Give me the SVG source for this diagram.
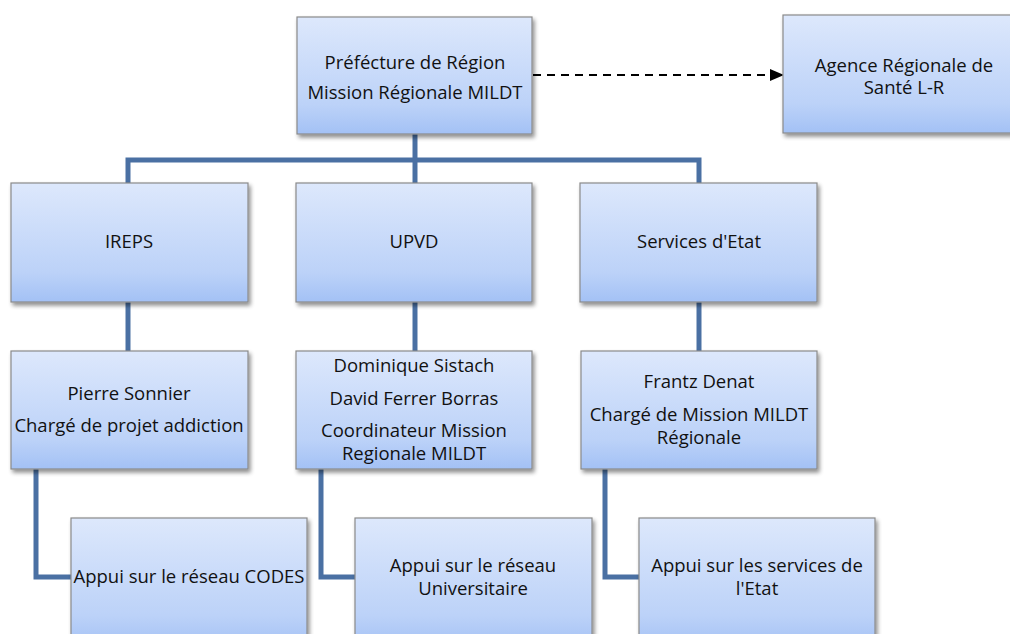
<svg xmlns="http://www.w3.org/2000/svg" width="1010" height="634" viewBox="0 0 1010 634">
<defs>
<linearGradient id="g" x1="0" y1="0" x2="0" y2="1">
<stop offset="0" stop-color="#dde8fc"/>
<stop offset="0.75" stop-color="#bcd2f8"/>
<stop offset="1" stop-color="#a3c1f5"/>
</linearGradient>
<filter id="sh" x="-10%" y="-10%" width="130%" height="130%">
<feGaussianBlur in="SourceAlpha" stdDeviation="2"/>
<feOffset dx="2" dy="3" result="b"/>
<feComponentTransfer><feFuncA type="linear" slope="0.45"/></feComponentTransfer>
<feMerge><feMergeNode/><feMergeNode in="SourceGraphic"/></feMerge>
</filter>
<marker id="arr" markerWidth="14" markerHeight="12" refX="13" refY="6" orient="auto" markerUnits="userSpaceOnUse">
<path d="M0,0 L14,6 L0,12 Z" fill="#000"/>
</marker>
</defs>
<style>
.box{fill:url(#g);stroke:#8a8a8a;stroke-width:1.2;filter:url(#sh)}
.t{font-family:"Open Sans","Liberation Sans",sans-serif;font-size:18.5px;fill:#111;text-anchor:middle}
.c{fill:none;stroke:#4a70a3;stroke-width:5;stroke-linejoin:miter}
.d{fill:none;stroke:#000;stroke-width:2.2;stroke-dasharray:8,6}
</style>
<rect width="1010" height="634" fill="#fff"/>
<g id="connectors">
<path class="c" d="M415,134 V160"/>
<path class="c" d="M128,183 V160 H699 V183"/>
<path class="c" d="M415,160 V183"/>
<path class="c" d="M128,302 V351"/>
<path class="c" d="M415,302 V351"/>
<path class="c" d="M699,302 V351"/>
<path class="c" d="M36,469 V577 H71"/>
<path class="c" d="M321,469 V577 H355"/>
<path class="c" d="M605,469 V577 H639"/>
<path class="d" d="M533,75 H783" marker-end="url(#arr)"/>
</g>
<g id="prefecture">
<rect class="box" x="297" y="17" width="235" height="117"/>
<text class="t" x="415" y="69">Préfécture de Région</text>
<text class="t" x="415" y="99">Mission Régionale MILDT</text>
</g>
<g id="ars">
<rect class="box" x="783" y="15" width="242" height="118"/>
<text class="t" x="904" y="72">Agence Régionale de</text>
<text class="t" x="904" y="94">Santé L-R</text>
</g>
<g id="ireps">
<rect class="box" x="11" y="183" width="237" height="119"/>
<text class="t" x="129" y="248">IREPS</text>
</g>
<g id="upvd">
<rect class="box" x="296" y="183" width="236" height="119"/>
<text class="t" x="414" y="248">UPVD</text>
</g>
<g id="services">
<rect class="box" x="580" y="183" width="237" height="119"/>
<text class="t" x="699" y="248">Services d'Etat</text>
</g>
<g id="pierre">
<rect class="box" x="11" y="351" width="237" height="118"/>
<text class="t" x="129" y="400">Pierre Sonnier</text>
<text class="t" x="129" y="432">Chargé de projet addiction</text>
</g>
<g id="upvd-people">
<rect class="box" x="296" y="351" width="236" height="118"/>
<text class="t" x="414" y="372">Dominique Sistach</text>
<text class="t" x="414" y="405">David Ferrer Borras</text>
<text class="t" x="414" y="437">Coordinateur Mission</text>
<text class="t" x="414" y="460">Regionale MILDT</text>
</g>
<g id="frantz">
<rect class="box" x="581" y="351" width="236" height="118"/>
<text class="t" x="699" y="388">Frantz Denat</text>
<text class="t" x="699" y="421">Chargé de Mission MILDT</text>
<text class="t" x="699" y="444">Régionale</text>
</g>
<g id="codes">
<rect class="box" x="71" y="518" width="236" height="130"/>
<text class="t" x="189" y="583">Appui sur le réseau CODES</text>
</g>
<g id="univ">
<rect class="box" x="355" y="518" width="237" height="130"/>
<text class="t" x="473" y="572">Appui sur le réseau</text>
<text class="t" x="473" y="595">Universitaire</text>
</g>
<g id="etat">
<rect class="box" x="639" y="518" width="236" height="130"/>
<text class="t" x="757" y="572">Appui sur les services de</text>
<text class="t" x="757" y="595">l'Etat</text>
</g>
</svg>
